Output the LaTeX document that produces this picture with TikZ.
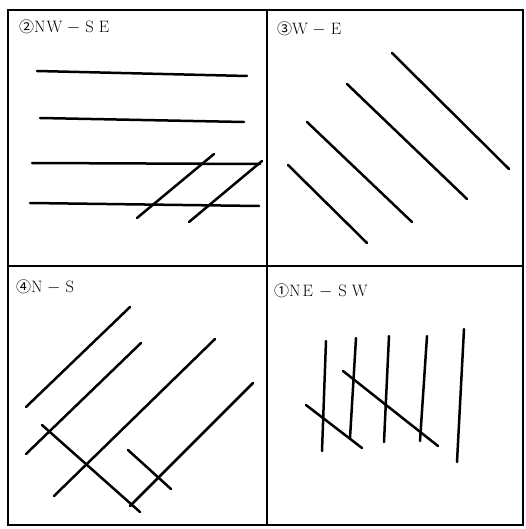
\documentclass[tikz,border=0pt]{standalone}
\usepackage{fontspec}
\newfontfamily\circfont{Noto Sans CJK JP}
\usepackage{tikz}

\newcommand{\circled}[1]{{\circfont\fontsize{15}{18}\selectfont #1}}
\newcommand{\dash}{\kern4.5pt$-$\kern5pt}

\begin{document}
\begin{tikzpicture}[x=1pt,y=-1pt,
    frame/.style={line width=1.6pt},
    crack/.style={line width=2.5pt,line cap=round},
    tag/.style={anchor=base west,inner sep=0pt,font=\fontsize{16.5}{18}\selectfont}]
  \useasboundingbox (0,0) rectangle (526,529);

  % frame and panels
  \draw[frame] (8,10) rectangle (523,525);
  \draw[frame] (267,10) -- (267,525);
  \draw[frame] (8,266) -- (523,266);

  % NW-SE
  \node[tag] (tagnw) at (19,33) {\circled{②}N\kern1pt W\dash S\kern5pt E};
  \draw[crack] (37,71) -- (247,76);
  \draw[crack] (40,118) -- (244,122);
  \draw[crack] (32,163) -- (260,164);
  \draw[crack] (30,203) -- (259,206);
  \draw[crack] (137,218) -- (214,154);
  \draw[crack] (189,222) -- (262,161);

  % W-E
  \node[tag] (tagwe) at (277,35) {\circled{③}W\dash E};
  \draw[crack] (392,53) -- (509,169);
  \draw[crack] (347,84) -- (467,199);
  \draw[crack] (307,122) -- (412,222);
  \draw[crack] (288,165) -- (367,243);

  % N-S
  \node[tag] (tagns) at (16,292) {\circled{④}N\dash S};
  \draw[crack] (26,407) -- (130,307);
  \draw[crack] (26,454) -- (141,343);
  \draw[crack] (54,496) -- (215,339);
  \draw[crack] (130,506) -- (253,383);
  \draw[crack] (42,425) -- (140,512);
  \draw[crack] (128,450) -- (171,489);

  % NE-SW
  \node[tag] (tagne) at (274,296) {\circled{①}N\kern2pt E\kern6pt$-$\kern6pt S\kern5pt W};
  \draw[crack] (326,341) -- (322,451);
  \draw[crack] (356,338) -- (350,438);
  \draw[crack] (389,336) -- (384,442);
  \draw[crack] (427,336) -- (420,441);
  \draw[crack] (464,329) -- (457,462);
  \draw[crack] (306,405) -- (362,448);
  \draw[crack] (343,371) -- (438,446);
\end{tikzpicture}
\end{document}
